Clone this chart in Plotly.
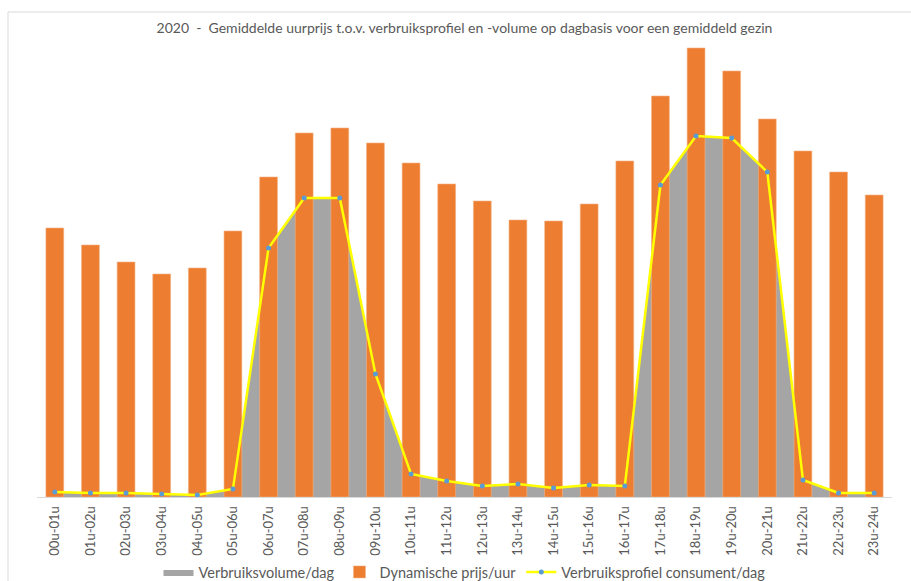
import plotly.graph_objects as go

categories = ["00u-01u", "01u-02u", "02u-03u", "03u-04u", "04u-05u", "05u-06u",
              "06u-07u", "07u-08u", "08u-09u", "09u-10u", "10u-11u", "11u-12u",
              "12u-13u", "13u-14u", "14u-15u", "15u-16u", "16u-17u", "17u-18u",
              "18u-19u", "19u-20u", "20u-21u", "21u-22u", "22u-23u", "23u-24u"]

# Dynamische prijs/uur (estimated, relative units)
price = [26.9, 25.2, 23.5, 22.3, 22.9, 26.6, 32.0, 36.4, 36.9, 35.4, 33.4, 31.3,
         29.6, 27.7, 27.6, 29.3, 33.6, 40.1, 44.9, 42.6, 37.8, 34.6, 32.5, 30.2]

# Verbruiksprofiel consument/dag (estimated, same relative units)
profile = [0.5, 0.4, 0.4, 0.3, 0.2, 0.8, 24.9, 29.9, 29.9, 12.3, 2.3, 1.6,
           1.1, 1.3, 0.9, 1.2, 1.1, 31.2, 36.1, 35.9, 32.5, 1.7, 0.4, 0.4]

# Verbruiksvolume/dag (area under the profile)
volume = profile[:]

title = "2020  -  Gemiddelde uurprijs t.o.v. verbruiksprofiel en -volume op dagbasis voor een gemiddeld gezin"

FONT = "Lato, 'Open Sans', sans-serif"
TXT = "#595959"
YMAX = 45.7

fig = go.Figure()

fig.add_trace(go.Scatter(
    x=categories, y=volume, name="Verbruiksvolume/dag",
    mode="lines", line=dict(width=0, color="#A5A5A5"),
    fill="tozeroy", fillcolor="#A5A5A5",
    xaxis="x", yaxis="y", hoverinfo="skip"))

fig.add_trace(go.Bar(
    x=categories, y=price, name="Dynamische prijs/uur",
    marker=dict(color="#ED7D31", line=dict(width=0.6, color="#F4B183")),
    width=0.5, xaxis="x", yaxis="y2"))

fig.add_trace(go.Scatter(
    x=categories, y=profile, name="Verbruiksprofiel consument/dag",
    mode="lines+markers",
    line=dict(color="#FFFF00", width=2.5),
    marker=dict(color="#5B9BD5", size=5),
    xaxis="x", yaxis="y2"))

fig.update_layout(
    width=911, height=581,
    margin=dict(l=37, r=19, t=40, b=84, autoexpand=False),
    paper_bgcolor="white", plot_bgcolor="white",
    font=dict(family=FONT, color=TXT, size=12),
    title=dict(text=title, x=0.5, xref="paper", xanchor="center",
               y=1 - 28 / 581, yref="container", yanchor="middle",
               font=dict(family=FONT, size=14, color=TXT)),
    showlegend=True,
    legend=dict(orientation="h", x=0.5, xanchor="center", xref="paper",
                y=1 - 572 / 581, yref="container", yanchor="middle",
                font=dict(family=FONT, size=14.5, color=TXT),
                traceorder="normal", itemwidth=30),
    bargap=0.5,
    xaxis=dict(type="category", showline=True, linecolor="#D9D9D9", linewidth=1,
               showgrid=False, zeroline=False, tickangle=-90,
               tickfont=dict(family=FONT, size=13, color=TXT),
               ticks="", ticklabelstandoff=3,
               range=[-0.5, len(categories) - 0.5]),
    yaxis=dict(range=[0, YMAX], visible=False, showgrid=False, zeroline=False),
    yaxis2=dict(range=[0, YMAX], overlaying="y", visible=False,
                showgrid=False, zeroline=False),
    shapes=[dict(type="rect", xref="paper", yref="paper",
                 x0=-29 / 855, x1=1 + 40 / 855,
                 y0=-120 / 457, y1=1 + 28 / 457,
                 line=dict(color="#D9D9D9", width=1), fillcolor="rgba(0,0,0,0)",
                 layer="below")],
)

fig.write_html("out.html",
               config={"displayModeBar": False},
               post_script="document.body.style.margin='0';document.body.style.overflow='hidden';")
